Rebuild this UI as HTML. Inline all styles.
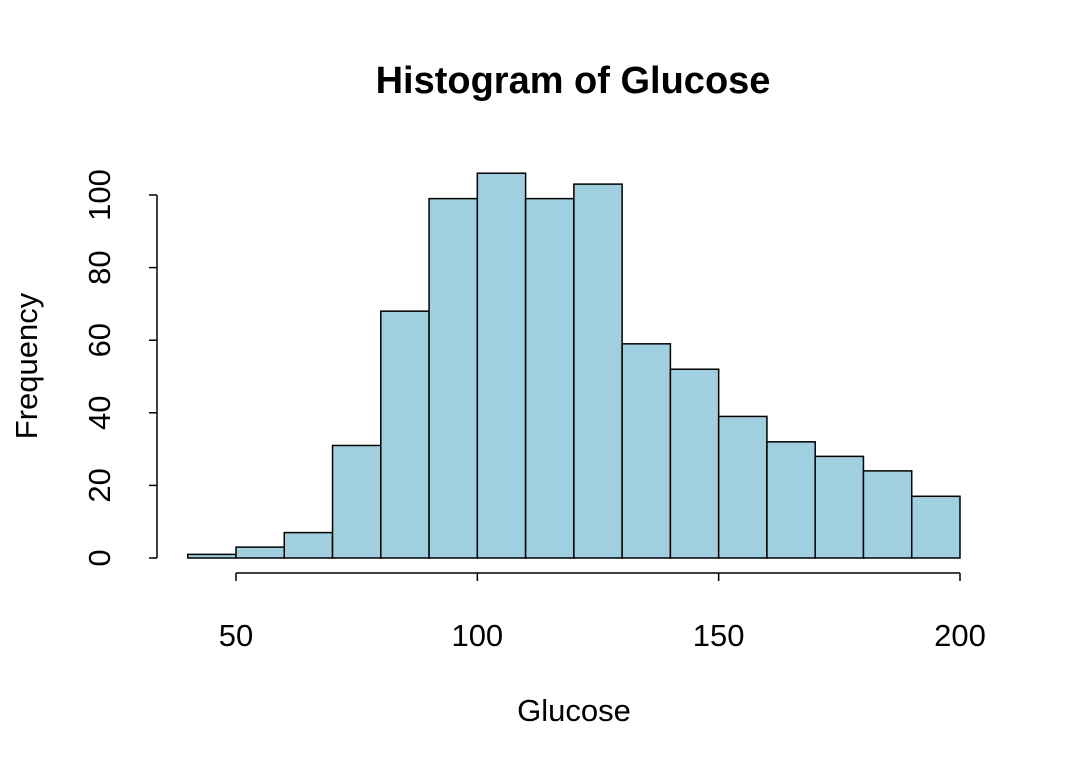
<!DOCTYPE html>
<html><head><meta charset="utf-8"><style>
html,body{margin:0;padding:0;background:#fff;}
svg{display:block;font-family:"Liberation Sans",Arial,sans-serif;}
</style></head><body>
<svg id="chart" width="1072" height="770">
<text x="573" y="93" text-anchor="middle" font-size="38" font-weight="bold">Histogram of Glucose</text>
<text x="574" y="721" text-anchor="middle" font-size="31">Glucose</text>
<text transform="translate(37,366) rotate(-90)" text-anchor="middle" font-size="31">Frequency</text>
<g id="bars"></g><g id="xaxis"></g><g id="yaxis"></g>
</svg>
<script>
const binStarts=[40,50,60,70,80,90,100,110,120,130,140,150,160,170,180,190];
const counts=[1,3,7,31,68,99,106,99,103,59,52,39,32,28,24,17];
const xTicks=[50,100,150,200];
const yTicks=[0,20,40,60,80,100];
const binWidth=10;
const NS="http://www.w3.org/2000/svg";
function sx(v){return 236+(v-50)*(724/150);}
function sy(v){return 558-v*3.63;}
function mk(tag,attrs,parent){const e=document.createElementNS(NS,tag);for(const k in attrs)e.setAttribute(k,attrs[k]);parent.appendChild(e);return e;}
const bars=document.getElementById('bars');
binStarts.forEach((b,i)=>{
 const x0=sx(b),x1=sx(b+binWidth),y=sy(counts[i]);
 const r=mk('rect',{x:x0,y:y,width:x1-x0,height:sy(0)-y,fill:'#a0cfe0',stroke:'#000','stroke-width':1.5},bars);
 
 
});
const xa=document.getElementById('xaxis');


mk('line',{x1:sx(xTicks[0]),x2:sx(xTicks[xTicks.length-1]),y1:573,y2:573,stroke:'#000','stroke-width':1.5},xa);
xTicks.forEach(t=>{
 mk('line',{x1:sx(t),x2:sx(t),y1:573,y2:581,stroke:'#000','stroke-width':1.5},xa);
 const tx=mk('text',{x:sx(t),y:646,'text-anchor':'middle','font-size':31},xa);
 tx.textContent=t;
 
 
});
const ya=document.getElementById('yaxis');


mk('line',{x1:157,x2:157,y1:sy(yTicks[0]),y2:sy(yTicks[yTicks.length-1]),stroke:'#000','stroke-width':1.5},ya);
yTicks.forEach(t=>{
 mk('line',{x1:149,x2:157,y1:sy(t),y2:sy(t),stroke:'#000','stroke-width':1.5},ya);
 const tx=mk('text',{transform:'translate(110,'+sy(t)+') rotate(-90)','text-anchor':'middle','font-size':31},ya);
 tx.textContent=t;
 
 
});
</script>
</body></html>
